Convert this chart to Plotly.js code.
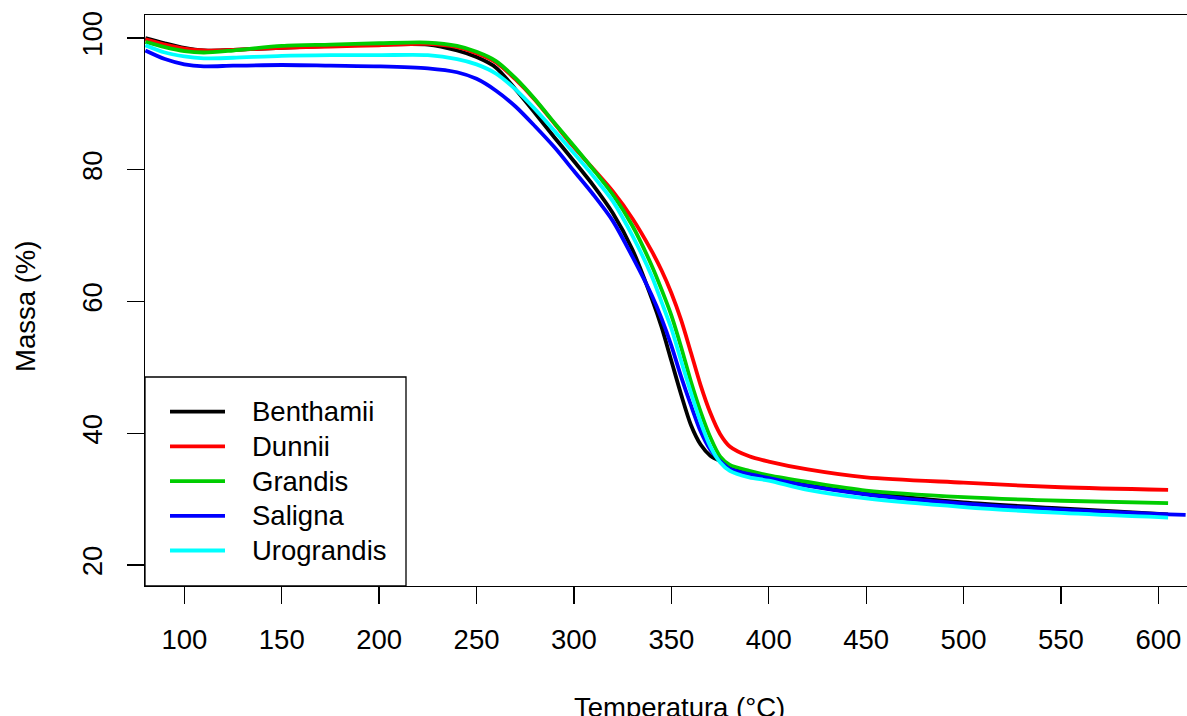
<!DOCTYPE html>
<html>
<head>
<meta charset="utf-8">
<script src="https://cdn.plot.ly/plotly-3.0.1.min.js"></script>
<style>
html,body{margin:0;padding:0;overflow:hidden;background:#fff;}
#chart{width:1200px;height:716px;}
</style>
</head>
<body>
<div id="chart"></div>
<script>
// ---- data ----
const temperatura = [80,90,100,110,125,150,175,200,225,240,250,260,270,280,290,300,310,320,330,340,345,350,355,360,365,370,375,380,390,400,420,450,500,550,605];
const temperaturaSaligna = temperatura.concat([614]);

const benthamii  = [100.0,99.2,98.5,98.1,98.2,98.5,98.8,99.0,99.0,98.1,97.1,95.5,92.2,88.6,84.9,81.3,77.6,73.4,67.9,60.4,56.1,51.0,45.9,41.3,38.3,36.6,35.8,34.9,33.9,33.3,32.3,31.0,29.5,28.6,27.7];
const dunnii     = [99.8,99.0,98.4,98.1,98.2,98.5,98.7,98.9,99.1,98.6,97.7,96.3,93.7,90.6,87.0,83.4,80.1,76.7,72.6,67.6,64.7,61.3,57.2,52.3,47.3,43.1,39.9,38.0,36.5,35.7,34.5,33.3,32.5,31.8,31.4];
const grandis    = [99.4,98.6,98.0,97.8,98.1,98.8,99.0,99.2,99.3,98.8,97.9,96.5,93.9,90.7,87.1,83.6,80.0,76.2,71.5,65.4,61.8,57.9,53.1,47.9,43.3,39.4,36.5,35.2,34.3,33.6,32.6,31.3,30.3,29.75,29.4];
const saligna    = [98.1,96.8,96.0,95.7,95.8,95.9,95.8,95.7,95.4,94.8,93.8,92.0,89.6,86.6,83.4,79.8,76.2,72.2,66.8,60.9,57.4,53.3,48.6,44.3,40.3,37.5,35.8,34.6,33.8,33.2,32.0,30.7,29.3,28.4,27.7,27.6];
const urograndis = [98.9,97.8,97.2,96.9,97.0,97.3,97.4,97.4,97.4,96.8,96.0,94.6,92.2,89.2,85.9,82.5,79.0,75.2,70.0,63.8,59.9,55.9,51.0,46.2,41.7,38.0,35.6,34.3,33.3,32.8,31.4,30.1,28.8,27.9,27.2];

const seriesNames  = ["Benthamii","Dunnii","Grandis","Saligna","Urograndis"];
const seriesColors = ["#000000","#FF0000","#00CD00","#0000FF","#00FFFF"];
const seriesX = [temperatura, temperatura, temperatura, temperaturaSaligna, temperatura];
const seriesY = [benthamii, dunnii, grandis, saligna, urograndis];

const xTicks = [100,150,200,250,300,350,400,450,500,550,600];
const yTicks = [20,40,60,80,100];

// ---- build ----
const FONT = "Liberation Sans, Arial, Helvetica, sans-serif";
const FS = 27.5;

const traces = seriesNames.map((n,i)=>({
  type:"scatter", mode:"lines", name:n,
  x:seriesX[i], y:seriesY[i],
  line:{color:seriesColors[i], width:3.8, shape:"spline", smoothing:0.8},
  showlegend:false, hoverinfo:"x+y+name"
}));

// plot area in pixels: left 145, top 15, bottom 586, width 1055 (right part beyond window)
const L=145, T=15, B=586, W=1055, H=B-T;
const px2x = p => (p-L)/W;
const py2y = p => (B-p)/H;

const shapes = [
  {type:"rect", xref:"paper", yref:"paper", x0:0, x1:px2x(406), y0:0, y1:py2y(377),
   line:{color:"#000", width:1.3}, fillcolor:"#fff", layer:"above"}
];
const annotations = [];
seriesNames.forEach((n,i)=>{
  const yy = py2y(411.7 + i*34.7);
  shapes.push({type:"line", xref:"paper", yref:"paper", x0:px2x(170), x1:px2x(225), y0:yy, y1:yy,
               line:{color:seriesColors[i], width:3.8}, layer:"above"});
  annotations.push({xref:"paper", yref:"paper", x:px2x(250), y:yy, xanchor:"left", yanchor:"middle",
                    text:n, showarrow:false, font:{family:FONT, size:FS, color:"#000"}});
});
annotations.push({xref:"paper", yref:"paper", x:px2x(679), y:py2y(690), xanchor:"center", yanchor:"top",
                  text:"Temperatura (°C)", showarrow:false, font:{family:FONT, size:FS, color:"#000"}});
annotations.push({xref:"paper", yref:"paper", x:px2x(26), y:py2y(307), xanchor:"center", yanchor:"middle",
                  text:"Massa (%)", textangle:-90, showarrow:false, font:{family:FONT, size:FS, color:"#000"}});

const layout = {
  width:1200, height:716,
  margin:{l:L, r:0, t:T, b:716-B, pad:0},
  paper_bgcolor:"#fff", plot_bgcolor:"#fff",
  font:{family:FONT, size:FS, color:"#000"},
  xaxis:{range:[79.8, 79.8+W/1.948], tickvals:xTicks, ticktext:xTicks.map(String),
         ticks:"outside", ticklen:17, tickwidth:1.3, tickcolor:"#000",
         showline:true, linecolor:"#000", linewidth:1.3, mirror:true,
         showgrid:false, zeroline:false, ticklabelstandoff:12,
         tickfont:{family:FONT, size:FS, color:"#000"}},
  yaxis:{range:[20-(B-565)/6.5875, 100+(38-T)/6.5875], tickvals:yTicks, ticktext:yTicks.map(String),
         ticks:"outside", ticklen:17, tickwidth:1.3, tickcolor:"#000", tickangle:-90,
         showline:true, linecolor:"#000", linewidth:1.3, mirror:true,
         showgrid:false, zeroline:false, ticklabelstandoff:14,
         tickfont:{family:FONT, size:FS, color:"#000"}},
  shapes:shapes, annotations:annotations, showlegend:false
};

Plotly.newPlot("chart", traces, layout, {staticPlot:true, displayModeBar:false});
</script>
</body>
</html>
